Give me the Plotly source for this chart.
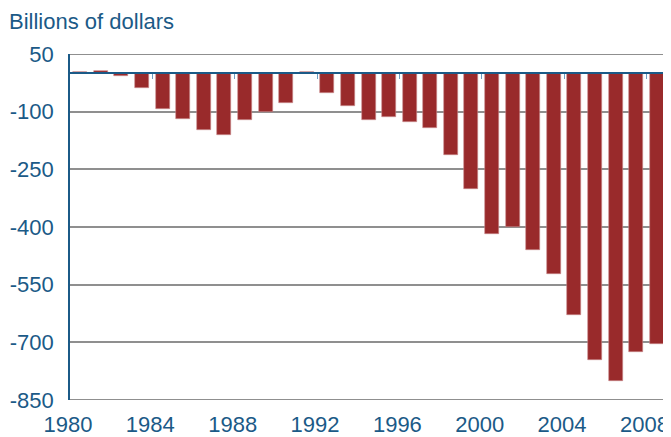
import plotly.graph_objects as go

years = list(range(1980, 2009))
balance = [2, 5, -6, -39, -94, -118, -148, -161, -122, -100, -78, 3,
           -52, -85, -122, -115, -127, -142, -214, -302, -417, -399,
           -459, -522, -629, -747, -801, -725, -705]
y_ticks = [50, -100, -250, -400, -550, -700, -850]
x_ticks = [1980, 1984, 1988, 1992, 1996, 2000, 2004, 2008]
y_title = "Billions of dollars"

BLUE = "#1B5A87"
BAR = "#992A2B"
GRID = "#8F8F8F"
FONT = "Liberation Sans, Arial, sans-serif"
FS = 22

fig = go.Figure()
fig.add_trace(go.Bar(
    x=[y + 0.5 for y in years],
    y=balance,
    width=0.68,
    marker=dict(color=BAR, line=dict(color="#C98A8B", width=0.6)),
    showlegend=False,
))

y0 = min(y_ticks)
y1 = max(y_ticks)
zero_pos = (0 - y0) / (y1 - y0)

# gridlines at the two range edges (plotly omits them)
for v in (y0, y1):
    fig.add_shape(type="line", xref="paper", x0=0, x1=1, yref="y", y0=v, y1=v,
                  line=dict(color=GRID, width=2), layer="below")

fig.update_layout(
    width=671, height=437,
    margin=dict(l=62, r=12, t=46, b=45, autoexpand=False),
    paper_bgcolor="white", plot_bgcolor="white",
    font=dict(family=FONT, size=FS, color=BLUE),
    bargap=0,
    title=dict(text=y_title, x=1 / 671, xanchor="left", xref="container",
               y=1 - 13 / 437, yanchor="middle", yref="container",
               font=dict(family=FONT, size=FS, color=BLUE), automargin=False),
    xaxis=dict(range=[1980, 2009], tickvals=x_ticks, ticktext=[str(t) for t in x_ticks],
               showgrid=False, showline=False, zeroline=False, ticks="",
               tickfont=dict(size=FS, color=BLUE), ticklabelstandoff=9,
               ticklabelshift=-2, automargin=False),
    xaxis2=dict(range=[1980, 2009], overlaying="x", anchor="free", position=zero_pos,
                side="bottom", showline=True, linecolor=BLUE, linewidth=1.5,
                ticks="outside", ticklen=5, tickcolor="#6F9CC0", tickwidth=1,
                tickvals=x_ticks[1:], showticklabels=False, showgrid=False,
                zeroline=False, automargin=False),
    yaxis=dict(range=[y0, y1], tickvals=y_ticks, ticktext=[str(t) for t in y_ticks],
               showgrid=True, gridcolor=GRID, gridwidth=2, zeroline=False,
               showline=True, linecolor=BLUE, linewidth=1.5, ticks="",
               tickfont=dict(size=FS, color=BLUE), ticklabelstandoff=10,
               automargin=False),
)

# invisible trace to activate xaxis2
fig.add_trace(go.Scatter(x=[1980], y=[0], xaxis="x2", mode="markers",
                         marker=dict(opacity=0), showlegend=False, hoverinfo="skip"))

fig.write_html("out.html")
